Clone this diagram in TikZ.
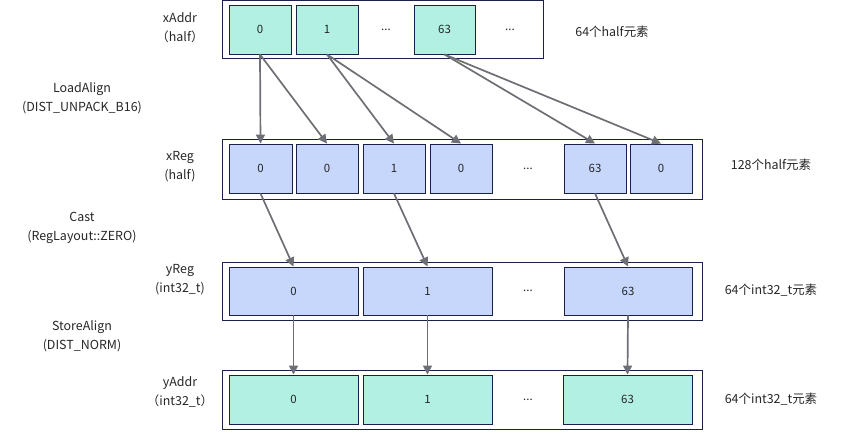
\documentclass[tikz,border=0pt]{standalone}
\usepackage{fontspec}
\setmainfont{Noto Sans CJK SC}
\usetikzlibrary{arrows.meta}
\definecolor{cellteal}{HTML}{B2F0E3}
\definecolor{cellblue}{HTML}{C6D7FB}
\definecolor{edgenavy}{HTML}{1B1F4B}
\definecolor{arrowgray}{HTML}{6E6F75}
\definecolor{txtc}{HTML}{262626}
\begin{document}
\begin{tikzpicture}[x=1bp,y=-1bp,
  outerbox/.style={draw=edgenavy, line width=0.9bp},
  cellbase/.style={draw=edgenavy, line width=0.9bp, inner sep=0pt, text=txtc, font=\fontsize{11.5}{13}\selectfont},
  tcell/.style={cellbase, fill=cellteal},
  bcell/.style={cellbase, fill=cellblue},
  dots/.style={text=txtc, font=\fontsize{11.5}{13}\selectfont},
  lbl/.style={text=txtc, align=center, font=\fontsize{12.5}{19}\selectfont},
  note/.style={text=txtc, font=\fontsize{12.5}{14}\selectfont},
  arr/.style={draw=arrowgray, line width=1.7bp, -{Triangle[length=9bp,width=9bp]}}
]
\useasboundingbox (0,0) rectangle (842,434);

% outer boxes
\draw[outerbox] (222,0.6) rectangle (543,58);
\draw[outerbox] (222,139) rectangle (702,199);
\draw[outerbox] (222,262) rectangle (702,320);
\draw[outerbox] (222,370) rectangle (702,429);

% xAddr cells
\node[tcell, minimum width=62bp, minimum height=49bp] (a0) at (260,29.5) {0};
\node[tcell, minimum width=62bp, minimum height=49bp] (a1) at (327,29.5) {1};
\node[dots] (ad1) at (386,29.5) {...};
\node[tcell, minimum width=61bp, minimum height=49bp] (a63) at (444.5,29.5) {63};
\node[dots] (ad2) at (510,29.5) {...};

% xReg cells
\node[bcell, minimum width=63bp, minimum height=49bp] (r0) at (260.5,168.5) {0};
\node[bcell, minimum width=62bp, minimum height=49bp] (r1) at (327,168.5) {0};
\node[bcell, minimum width=62bp, minimum height=49bp] (r2) at (394,168.5) {1};
\node[bcell, minimum width=62bp, minimum height=49bp] (r3) at (461,168.5) {0};
\node[dots] (rd) at (528,168.5) {...};
\node[bcell, minimum width=62bp, minimum height=49bp] (r63) at (595,168.5) {63};
\node[bcell, minimum width=62bp, minimum height=49bp] (rl) at (661,168.5) {0};

% yReg cells
\node[bcell, minimum width=129bp, minimum height=48bp] (y0) at (293.5,291) {0};
\node[bcell, minimum width=129bp, minimum height=48bp] (y1) at (427.5,291) {1};
\node[dots] (yd) at (528,291) {...};
\node[bcell, minimum width=128bp, minimum height=48bp] (y63) at (628,291) {63};

% yAddr cells
\node[tcell, minimum width=129bp, minimum height=49bp] (z0) at (293.5,399.5) {0};
\node[tcell, minimum width=129bp, minimum height=49bp] (z1) at (427.5,399.5) {1};
\node[dots] (zd) at (528,399.5) {...};
\node[tcell, minimum width=129bp, minimum height=49bp] (z63) at (627.5,399.5) {63};

% left labels
\node[lbl] (lxa) at (180,28) {xAddr\\（half）};
\node[lbl] (lla) at (82,98) {LoadAlign\\(DIST\_UNPACK\_B16)};
\node[lbl] (lxr) at (180,166.5) {xReg\\(half)};
\node[lbl] (lca) at (82,227.5) {Cast\\(RegLayout::ZERO)};
\node[lbl] (lyr) at (180,280) {yReg\\(int32\_t)};
\node[lbl] (lsa) at (82,336.5) {StoreAlign\\(DIST\_NORM)};
\node[lbl] (lya) at (180,391.5) {yAddr\\（int32\_t）};

% right notes
\node[note] (n1) at (612,32) {64个half元素};
\node[note] (n2) at (771,165) {128个half元素};
\node[note] (n3) at (771,290) {64个int32\_t元素};
\node[note] (n4) at (771,399) {64个int32\_t元素};

% arrows xAddr -> xReg
\draw[arr] (a0.south) -- (r0.north);
\draw[arr] (a0.south) -- (r1.north);
\draw[arr] (a1.south) -- (r2.north);
\draw[arr] (a1.south) -- (r3.north);
\draw[arr] (a63.south) -- (r63.north);
\draw[arr] (a63.south) -- (rl.north);

% xReg -> yReg
\draw[arr] (r0.south) -- (y0.north);
\draw[arr] (r2.south) -- (y1.north);
\draw[arr] (r63.south) -- (y63.north);

% yReg -> yAddr
\draw[arr] (y0.south) -- (z0.north);
\draw[arr] (y1.south) -- (z1.north);
\draw[arr] (y63.south) -- (z63.north);
\end{tikzpicture}
\end{document}
